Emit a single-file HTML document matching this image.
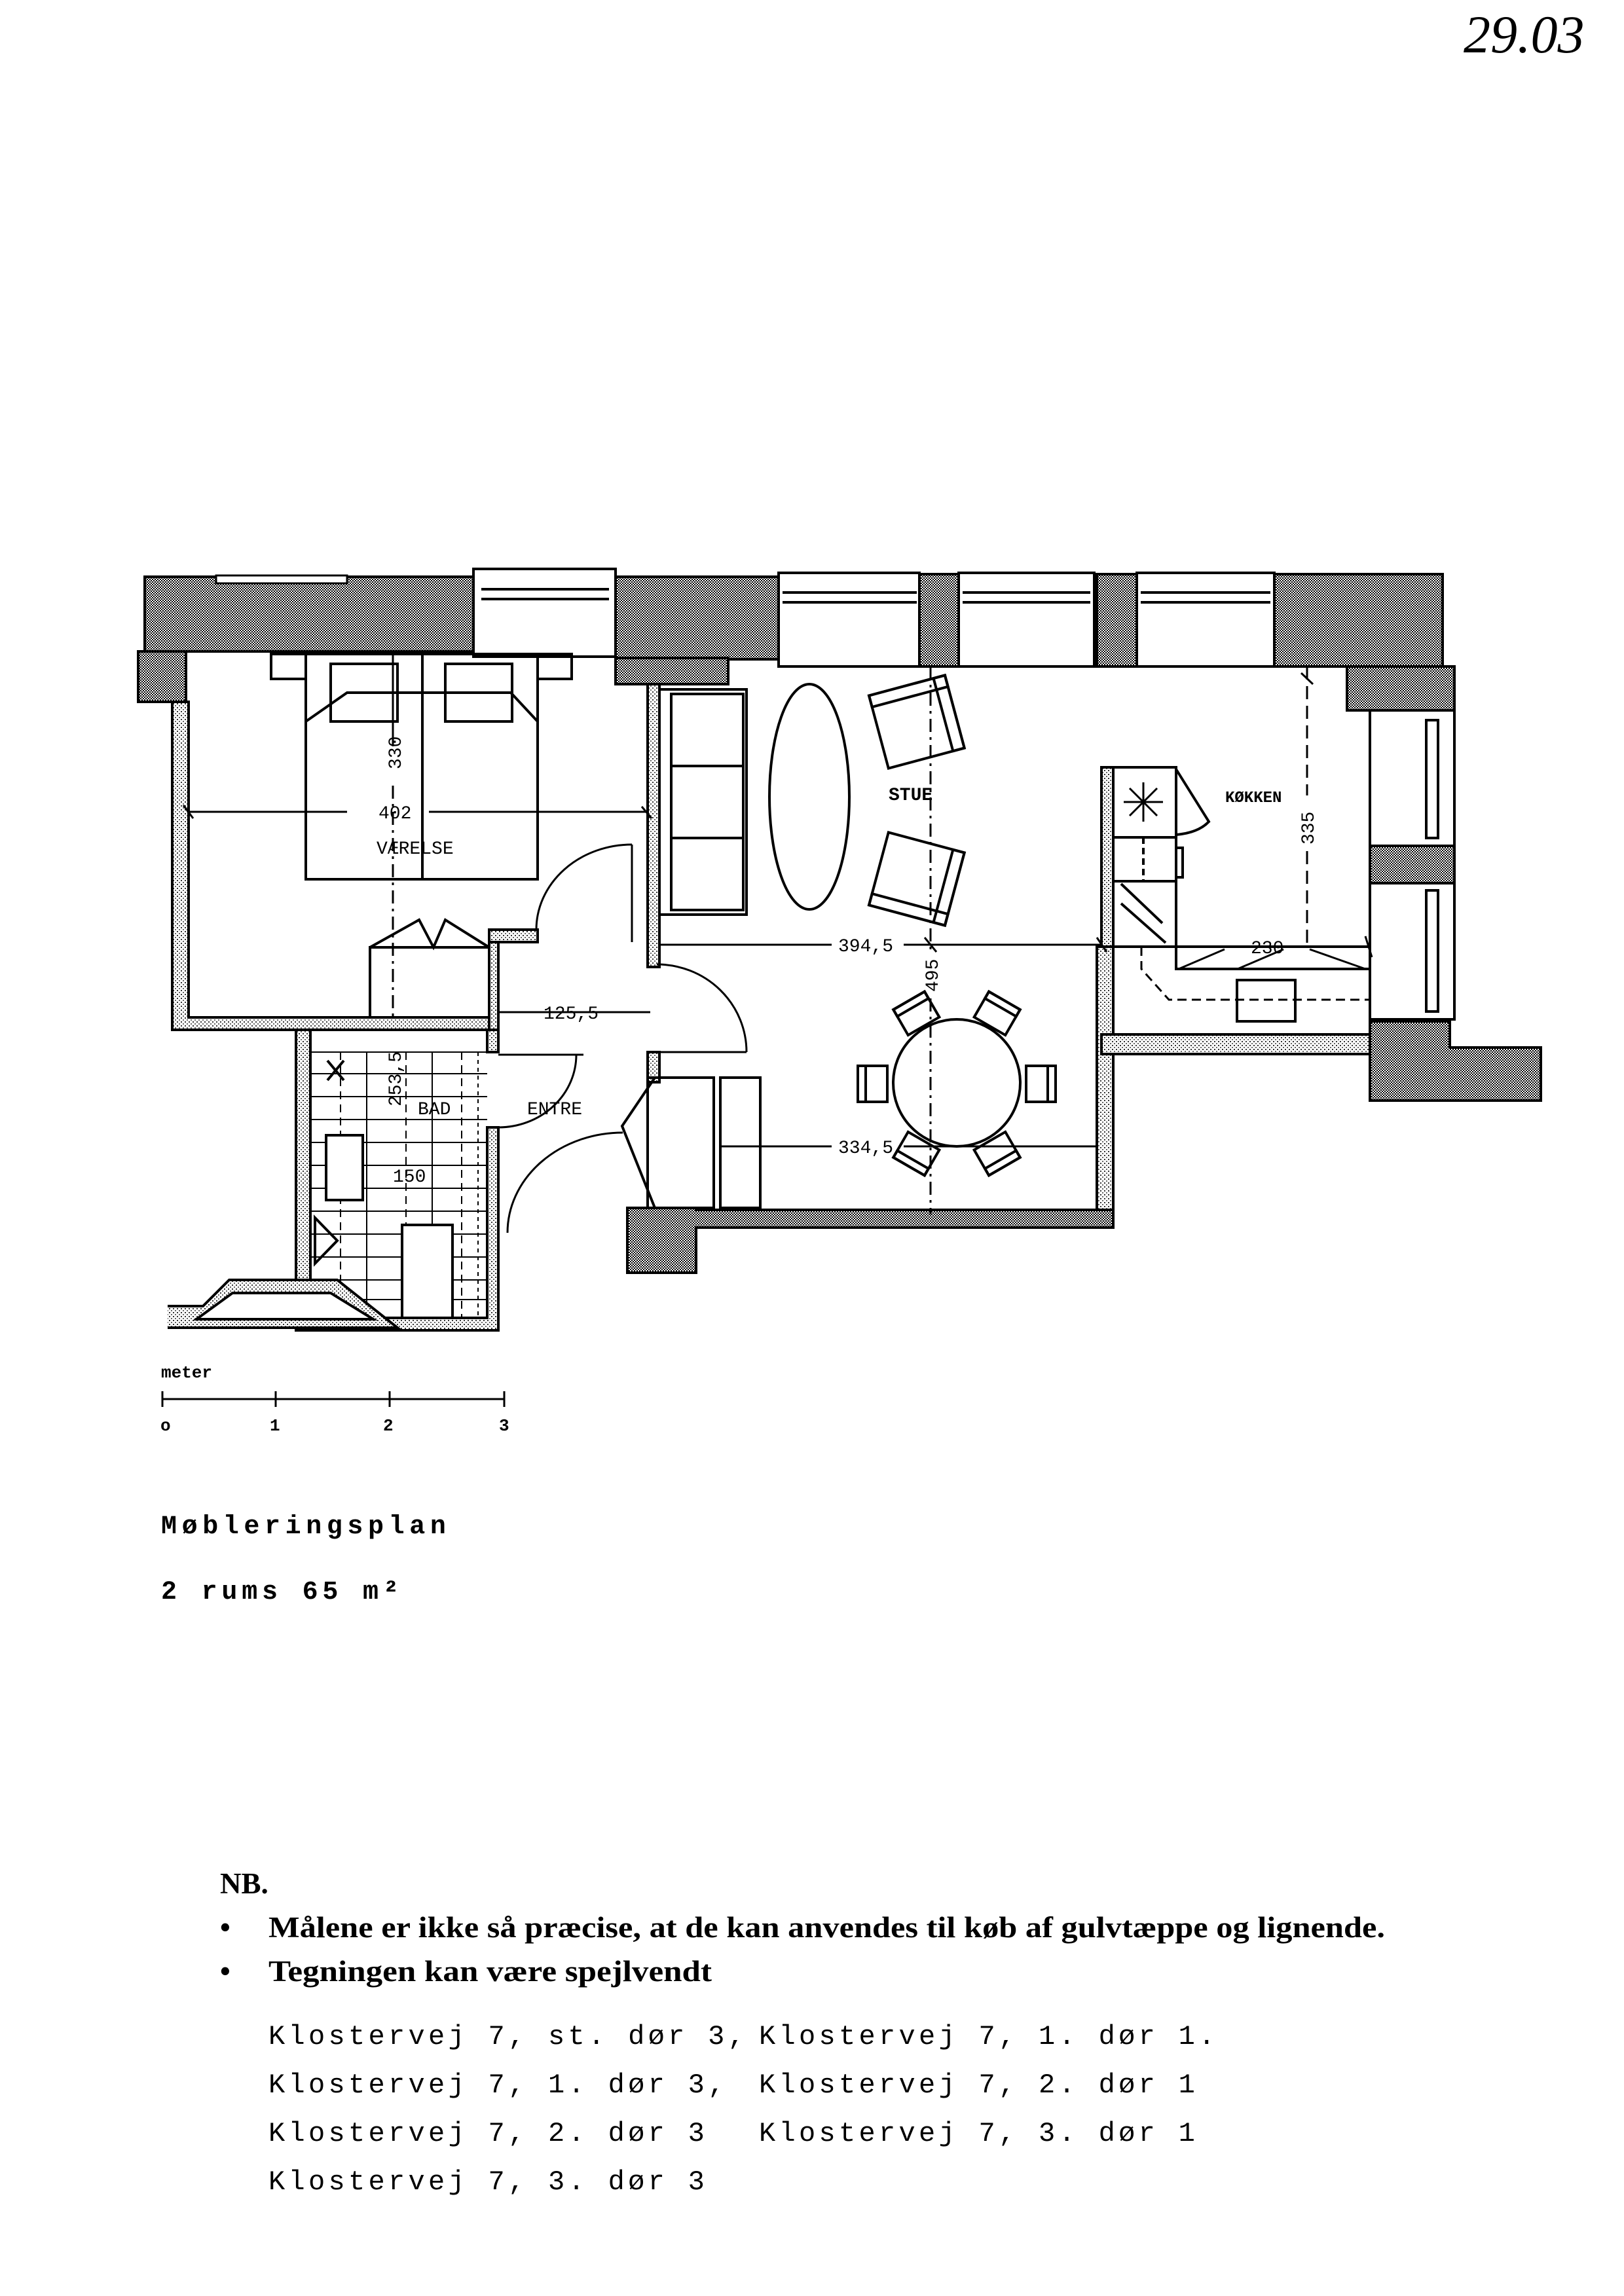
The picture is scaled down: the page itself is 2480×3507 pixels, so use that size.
<!DOCTYPE html>
<html><head><meta charset="utf-8"><style>
html,body{margin:0;padding:0;background:#fff}
svg{display:block}
</style></head><body>
<svg width="2480" height="3507" viewBox="0 0 2480 3507" xmlns="http://www.w3.org/2000/svg">
<defs>
<pattern id="hd" width="4" height="4" patternUnits="userSpaceOnUse"><rect width="4" height="4" fill="#fff"/><rect width="2" height="2" fill="#000"/><rect x="2" y="2" width="2" height="2" fill="#000"/></pattern>
<pattern id="hl" width="6" height="6" patternUnits="userSpaceOnUse"><rect width="6" height="6" fill="#fff"/><rect width="2" height="2" fill="#333"/><rect x="3" y="3" width="2" height="2" fill="#666"/></pattern>
</defs>
<rect width="2480" height="3507" fill="#fff"/>
<text x="2235" y="80" font-family="Liberation Serif, serif" font-style="italic" font-size="82" fill="#000">29.03</text>

<g stroke="#000" stroke-width="4" fill="none">
<!-- top heavy walls -->
<rect x="221" y="881" width="502" height="114" fill="url(#hd)"/>
<rect x="330" y="879" width="200" height="12" fill="#fff" stroke-width="3"/>
<rect x="211" y="995" width="73" height="77" fill="url(#hd)"/>
<rect x="940" y="881" width="249" height="126" fill="url(#hd)"/>
<rect x="940" y="1005" width="172" height="40" fill="url(#hd)"/>
<!-- windows top -->
<rect x="723" y="869" width="217" height="134" fill="#fff"/>
<line x1="735" y1="900" x2="930" y2="900"/><line x1="735" y1="915" x2="930" y2="915"/>
<rect x="1189" y="875" width="215" height="143" fill="#fff"/>
<line x1="1195" y1="905" x2="1400" y2="905"/><line x1="1195" y1="920" x2="1400" y2="920"/>
<rect x="1404" y="877" width="60" height="141" fill="url(#hd)"/>
<rect x="1464" y="875" width="207" height="143" fill="#fff"/>
<line x1="1470" y1="905" x2="1665" y2="905"/><line x1="1470" y1="920" x2="1665" y2="920"/>
<rect x="1675" y="877" width="61" height="141" fill="url(#hd)"/>
<rect x="1736" y="875" width="210" height="143" fill="#fff"/>
<line x1="1742" y1="905" x2="1940" y2="905"/><line x1="1742" y1="920" x2="1940" y2="920"/>
<rect x="1946" y="877" width="257" height="141" fill="url(#hd)"/>
<rect x="2057" y="1018" width="164" height="67" fill="url(#hd)"/>
<!-- right windows -->
<rect x="2092" y="1085" width="129" height="207" fill="#fff"/>
<rect x="2178" y="1100" width="18" height="180"/>
<rect x="2092" y="1292" width="129" height="57" fill="url(#hd)"/>
<rect x="2092" y="1349" width="129" height="208" fill="#fff"/>
<rect x="2178" y="1360" width="18" height="185"/>
<path d="M2092 1560 H2214 V1600 H2353 V1681 H2092 Z" fill="url(#hd)"/>

<!-- bedroom walls (light) -->
<path d="M263 1072 H288 V1554 H761 V1573 H263 Z" fill="url(#hl)"/>
<rect x="989" y="1045" width="18" height="432" fill="url(#hl)"/>
<rect x="747" y="1420" width="14" height="187" fill="url(#hl)"/>
<rect x="747" y="1420" width="74" height="19" fill="url(#hl)"/>
<rect x="989" y="1607" width="18" height="46" fill="url(#hl)"/>
<!-- bed -->
<rect x="467" y="999" width="354" height="344"/>
<rect x="414" y="999" width="53" height="38"/><rect x="821" y="999" width="52" height="38"/>
<rect x="505" y="1014" width="102" height="88"/><rect x="680" y="1014" width="102" height="88"/>
<path d="M467 1102 L530 1058 H780 L821 1102"/>
<line x1="645" y1="999" x2="645" y2="1343"/>
<!-- wardrobe -->
<rect x="565" y="1447" width="182" height="107"/>
<path d="M565 1447 L640 1405 L662 1447 L680 1405 L747 1447"/>
<!-- bedroom dims -->
<line x1="288" y1="1240" x2="530" y2="1240" stroke-width="3"/><line x1="655" y1="1240" x2="989" y2="1240" stroke-width="3"/>
<line x1="600" y1="995" x2="600" y2="1140" stroke-width="3"/><line x1="600" y1="1200" x2="600" y2="1554" stroke-width="3" stroke-dasharray="20 8 4 8"/>
<!-- doors -->
<path d="M819 1420 A146 130 0 0 1 965 1290" stroke-width="3"/>
<line x1="965" y1="1290" x2="965" y2="1439" stroke-width="3"/>
<path d="M1003 1473 A137 134 0 0 1 1140 1607" stroke-width="3"/>
<line x1="1003" y1="1607" x2="1140" y2="1607" stroke-width="3"/>
<path d="M761 1722 A119 111 0 0 0 880 1611" stroke-width="3"/>
<line x1="761" y1="1611" x2="891" y2="1611" stroke-width="3"/>
<path d="M775 1883 A176 153 0 0 1 951 1730" stroke-width="3"/>
<line x1="761" y1="1546" x2="993" y2="1546" stroke-width="3"/>

<!-- bathroom -->
<path d="M452 1573 H474 V2013 H744 V1722 H761 V2032 H452 Z" fill="url(#hl)"/>
<rect x="744" y="1573" width="17" height="34" fill="url(#hl)"/>
<g stroke-width="2">
<line x1="474" y1="1607" x2="744" y2="1607"/><line x1="474" y1="1640" x2="744" y2="1640"/><line x1="474" y1="1675" x2="744" y2="1675"/><line x1="474" y1="1710" x2="744" y2="1710"/><line x1="474" y1="1745" x2="744" y2="1745"/><line x1="474" y1="1780" x2="744" y2="1780"/><line x1="474" y1="1815" x2="744" y2="1815"/><line x1="474" y1="1850" x2="744" y2="1850"/><line x1="474" y1="1885" x2="744" y2="1885"/><line x1="474" y1="1920" x2="744" y2="1920"/><line x1="474" y1="1955" x2="744" y2="1955"/><line x1="474" y1="1985" x2="744" y2="1985"/>
<line x1="520" y1="1607" x2="520" y2="2013" stroke-dasharray="12 8"/><line x1="560" y1="1607" x2="560" y2="2013"/><line x1="620" y1="1607" x2="620" y2="2013" stroke-dasharray="12 8"/><line x1="660" y1="1607" x2="660" y2="2013"/><line x1="705" y1="1607" x2="705" y2="2013" stroke-dasharray="12 8"/><line x1="730" y1="1607" x2="730" y2="2013" stroke-dasharray="6 6"/>
</g>
<rect x="498" y="1734" width="56" height="99" fill="#fff"/>
<rect x="614" y="1871" width="77" height="142" fill="#fff"/>
<path d="M481 1860 V1930 L515 1895 Z"/>
<line x1="500" y1="1620" x2="525" y2="1650"/><line x1="525" y1="1620" x2="500" y2="1650"/>
<!-- balcony trapezoid -->
<path d="M256 1995 H310 L350 1955 H515 L607 2028 H256" fill="url(#hl)"/>
<path d="M300 2015 L355 1975 H505 L570 2015 Z" fill="#fff"/>

<!-- living room -->
<rect x="1007" y="1053" width="133" height="344"/>
<rect x="1025" y="1060" width="110" height="330"/>
<line x1="1025" y1="1170" x2="1135" y2="1170"/><line x1="1025" y1="1280" x2="1135" y2="1280"/>
<ellipse cx="1236" cy="1217" rx="61" ry="172"/>
<g transform="rotate(-15 1400 1103)"><rect x="1340" y="1045" width="120" height="115"/><rect x="1340" y="1045" width="120" height="18"/><rect x="1442" y="1045" width="18" height="115"/></g>
<g transform="rotate(15 1400 1342)"><rect x="1340" y="1285" width="120" height="115"/><rect x="1340" y="1382" width="120" height="18"/><rect x="1442" y="1285" width="18" height="115"/></g>
<circle cx="1461" cy="1654" r="97"/>
<g><rect x="1310" y="1628" width="45" height="55"/><rect x="1310" y="1628" width="12" height="55"/></g>
<g><rect x="1567" y="1628" width="45" height="55"/><rect x="1600" y="1628" width="12" height="55"/></g>
<g transform="rotate(-30 1400 1548)"><rect x="1372" y="1525" width="55" height="45"/><rect x="1372" y="1525" width="55" height="12"/></g>
<g transform="rotate(30 1522 1548)"><rect x="1495" y="1525" width="55" height="45"/><rect x="1495" y="1525" width="55" height="12"/></g>
<g transform="rotate(30 1400 1762)"><rect x="1372" y="1740" width="55" height="45"/><rect x="1372" y="1773" width="55" height="12"/></g>
<g transform="rotate(-30 1522 1762)"><rect x="1495" y="1740" width="55" height="45"/><rect x="1495" y="1773" width="55" height="12"/></g>
<!-- sideboard entry -->
<path d="M989 1646 H1090 V1845 H989 Z"/><path d="M1000 1646 L950 1720 L1000 1845"/>
<rect x="1100" y="1646" width="61" height="199"/>
<!-- living walls -->
<rect x="1675" y="1446" width="25" height="409" fill="url(#hl)"/>
<path d="M958 1845 H1063 V1848 H1700 V1875 H1063 V1944 H958 Z" fill="url(#hd)"/>
<!-- kitchen -->
<rect x="1682" y="1172" width="18" height="274" fill="url(#hl)"/>
<rect x="1682" y="1580" width="410" height="30" fill="url(#hl)"/>
<line x1="1700" y1="1446" x2="1700" y2="1580"/>
<rect x="1700" y="1172" width="96" height="274"/>
<line x1="1700" y1="1279" x2="1796" y2="1279"/><line x1="1700" y1="1346" x2="1796" y2="1346"/>
<line x1="1746" y1="1279" x2="1746" y2="1346" stroke-dasharray="10 6"/>
<line x1="1712" y1="1380" x2="1780" y2="1440"/><line x1="1712" y1="1350" x2="1775" y2="1410"/>
<g stroke-width="3"><line x1="1716" y1="1225" x2="1776" y2="1225"/><line x1="1746" y1="1195" x2="1746" y2="1255"/><line x1="1725" y1="1204" x2="1767" y2="1246"/><line x1="1767" y1="1204" x2="1725" y2="1246"/></g>
<path d="M1796 1175 L1846 1255 Q1830 1272 1796 1275"/>
<rect x="1796" y="1295" width="10" height="45"/>
<rect x="1796" y="1446" width="296" height="34"/>
<path d="M1800 1480 L1870 1450 M1890 1480 L1960 1450 M2000 1450 L2085 1480" stroke-width="3"/>
<path d="M1743 1446 V1480 L1785 1527 H2092" stroke-dasharray="14 8" stroke-width="3"/>
<rect x="1889" y="1497" width="89" height="63"/>
<!-- living dims -->
<g stroke-width="3">
<line x1="1007" y1="1443" x2="1270" y2="1443"/><line x1="1380" y1="1443" x2="1682" y2="1443"/>
<line x1="1421" y1="1018" x2="1421" y2="1450" stroke-dasharray="20 8 4 8"/><line x1="1421" y1="1525" x2="1421" y2="1855" stroke-dasharray="20 8 4 8"/>
<line x1="1100" y1="1751" x2="1270" y2="1751"/><line x1="1380" y1="1751" x2="1675" y2="1751"/>
<line x1="1996" y1="1018" x2="1996" y2="1215" stroke-dasharray="20 10"/><line x1="1996" y1="1300" x2="1996" y2="1446" stroke-dasharray="20 10"/>
<line x1="1700" y1="1446" x2="1900" y2="1446"/><line x1="1965" y1="1446" x2="2092" y2="1446"/>
<line x1="1412" y1="1432" x2="1430" y2="1454"/><line x1="1675" y1="1432" x2="1690" y2="1454"/><line x1="1987" y1="1028" x2="2005" y2="1045"/>
<line x1="2085" y1="1430" x2="2095" y2="1462"/><line x1="980" y1="1232" x2="995" y2="1250"/><line x1="280" y1="1230" x2="295" y2="1250"/>
</g>
</g>

<g font-family="Liberation Mono, monospace" font-size="28" fill="#000">
<text x="575" y="1304">VÆRELSE</text>
<text x="578" y="1250">402</text>
<text transform="translate(612 1175) rotate(-90)">330</text>
<text x="1357" y="1222" font-weight="bold">STUE</text>
<text x="1871" y="1225" font-weight="bold" font-size="24">KØKKEN</text>
<text transform="translate(2006 1290) rotate(-90)">335</text>
<text x="1280" y="1453">394,5</text>
<text transform="translate(1432 1515) rotate(-90)">495</text>
<text x="1280" y="1761">334,5</text>
<text x="1910" y="1456">230</text>
<text x="830" y="1556">125,5</text>
<text x="638" y="1702">BAD</text>
<text x="805" y="1702">ENTRE</text>
<text transform="translate(612 1690) rotate(-90)">253,5</text>
<text x="600" y="1805">150</text>
</g>

<!-- scale bar -->
<g stroke="#000" stroke-width="3">
<line x1="248" y1="2137" x2="770" y2="2137"/>
<line x1="248" y1="2125" x2="248" y2="2149"/><line x1="421" y1="2125" x2="421" y2="2149"/><line x1="595" y1="2125" x2="595" y2="2149"/><line x1="770" y1="2125" x2="770" y2="2149"/>
</g>
<g font-family="Liberation Mono, monospace" font-size="26" fill="#000" font-weight="bold">
<text x="246" y="2104">meter</text>
<text x="245" y="2185">o</text><text x="412" y="2185">1</text><text x="585" y="2185">2</text><text x="762" y="2185">3</text>
</g>
<g font-family="Liberation Mono, monospace" font-weight="bold" font-size="40" fill="#000">
<text x="246" y="2342" letter-spacing="7.6">Møbleringsplan</text>
<text x="246" y="2442" letter-spacing="6.8">2 rums 65 m²</text>
</g>
<g font-family="Liberation Serif, serif" font-weight="bold" font-size="45" fill="#000">
<text x="336" y="2892">NB.</text>
<text x="336" y="2959">•</text><text x="410" y="2959" textLength="1705" lengthAdjust="spacingAndGlyphs">Målene er ikke så præcise, at de kan anvendes til køb af gulvtæppe og lignende.</text>
<text x="336" y="3026">•</text><text x="410" y="3026" textLength="677" lengthAdjust="spacingAndGlyphs">Tegningen kan være spejlvendt</text>
</g>
<g font-family="Liberation Mono, monospace" font-size="42" fill="#000" letter-spacing="5.3">
<text x="410" y="3122">Klostervej 7, st. dør 3,</text>
<text x="1159" y="3122">Klostervej 7, 1. dør 1.</text>
<text x="410" y="3196">Klostervej 7, 1. dør 3,</text>
<text x="1159" y="3196">Klostervej 7, 2. dør 1</text>
<text x="410" y="3270">Klostervej 7, 2. dør 3</text>
<text x="1159" y="3270">Klostervej 7, 3. dør 1</text>
<text x="410" y="3344">Klostervej 7, 3. dør 3</text>
</g>
</svg>
</body></html>
